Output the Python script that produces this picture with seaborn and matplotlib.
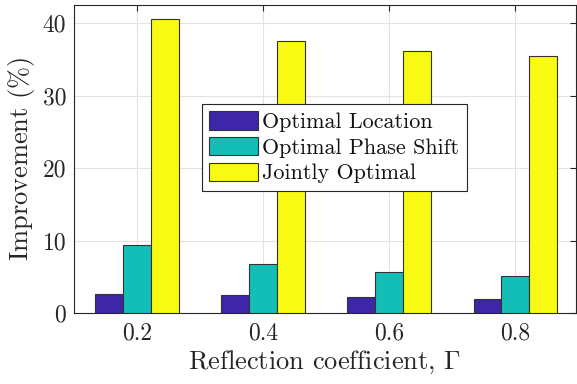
import numpy as np
import pandas as pd
import matplotlib
matplotlib.use("Agg")
import matplotlib.pyplot as plt
import seaborn as sns

gammas = ["0.2", "0.4", "0.6", "0.8"]
series_names = ["Optimal Location", "Optimal Phase Shift", "Jointly Optimal"]
opt_location = [2.6, 2.5, 2.2, 2.0]
opt_phase = [9.4, 6.7, 5.6, 5.05]
jointly = [40.6, 37.5, 36.1, 35.4]
colors = ["#3E26A8", "#13BEB7", "#F8FA14"]

df = pd.DataFrame({
    "gamma": gammas * 3,
    "series": sum([[s] * 4 for s in series_names], []),
    "value": opt_location + opt_phase + jointly,
})

sns.set_style("white")
plt.rcParams["font.family"] = ["cmr10"]
plt.rcParams["mathtext.fontset"] = "cm"
plt.rcParams["axes.unicode_minus"] = False
plt.rcParams["axes.formatter.use_mathtext"] = True

fig = plt.figure(figsize=(5.77, 3.84), dpi=100)
ax = fig.add_axes([74 / 577, (384 - 313) / 384, (576 - 74) / 577, 308 / 384])

sns.barplot(data=df, x="gamma", y="value", hue="series", order=gammas,
            hue_order=series_names, palette=colors, width=0.665, gap=0,
            edgecolor="#333333", linewidth=0.8, saturation=1, ax=ax,
            errorbar=None, zorder=3)

ax.set_xlim(-0.5, 3.48)
ax.set_ylim(0, 42.5)
ax.set_yticks([0, 10, 20, 30, 40])
ax.set_yticklabels(["0", "10", "20", "30", "40"])
ax.set_xticks(range(4))
ax.set_xticklabels(gammas)
ax.grid(True, color="#e3e3e3", linewidth=0.8, zorder=0)
ax.set_axisbelow(True)
ax.tick_params(direction="in", top=True, right=True, length=4, width=0.8,
               labelsize=17, colors="#262626", pad=7)
ax.tick_params(axis="y", pad=5.5)
for sp in ax.spines.values():
    sp.set_color("#262626")
    sp.set_linewidth(0.8)

ax.set_xlabel(r"Reflection coefficient, $\Gamma$", fontsize=19, color="#262626", labelpad=3)
ax.set_ylabel(r"Improvement ($\%$)", fontsize=19, color="#262626", labelpad=4)

leg = ax.legend(loc="upper left", bbox_to_anchor=((202 - 74) / 502, (313 - 104) / 308),
                borderaxespad=0, fontsize=15.9, frameon=True, fancybox=False,
                framealpha=1, edgecolor="#262626", handlelength=2.2, handleheight=0.9,
                handletextpad=0.2, labelspacing=0.22, borderpad=0.33)
leg.get_frame().set_linewidth(0.8)
for t in leg.get_texts():
    t.set_color("#111111")

fig.savefig("out.png", dpi=100)
